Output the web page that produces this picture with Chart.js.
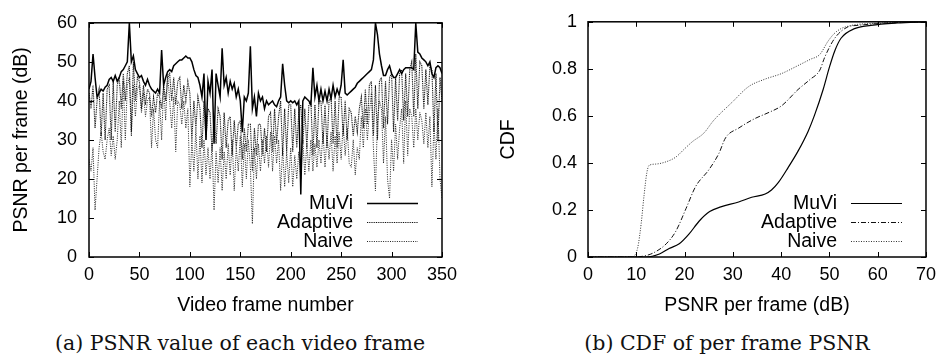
<!DOCTYPE html>
<html>
<head>
<meta charset="utf-8">
<script src="https://cdn.jsdelivr.net/npm/chart.js@4.4.1/dist/chart.umd.min.js"></script>
<style>
  body { margin: 0; background: #fff; width: 943px; height: 360px; overflow: hidden; position: relative; }
  canvas { position: absolute; top: 0; }
  #psnrChart { left: 0; }
  #cdfChart { left: 470px; }
  .caption { position: absolute; top: 331px; width: 600px; text-align: center; line-height: 24px;
             font-family: "DejaVu Serif", serif; font-size: 20.5px; color: #111; }
</style>
</head>
<body>
<canvas id="psnrChart" width="470" height="320"></canvas>
<canvas id="cdfChart" width="473" height="320"></canvas>
<div class="caption" style="left:-60px">(a) PSNR value of each video frame</div>
<div class="caption" style="left:427px">(b) CDF of per frame PSNR</div>
<script>
// per-frame PSNR (dB), one value every 2 frames (0..350)
const frameStep = 2;
const muviPsnr = [
  43, 45, 52, 46, 41, 42, 43, 42.5, 43.5, 44,
  45.5, 46, 45, 46.5, 45, 46, 47.5, 48, 49, 50,
  60, 50, 51.5, 48, 47, 46, 46.5, 45, 44, 45.5,
  44, 43, 42.5, 42, 43, 42, 53, 44, 46, 47.5,
  48, 47.5, 49, 49.5, 50, 50.5, 50.5, 51, 51.5, 51,
  51, 50, 48, 46.5, 46, 44, 41, 47, 30, 45,
  42, 48, 29, 47, 44, 41, 53.5, 44, 46, 42,
  45, 43, 44.5, 41, 43, 40, 32, 41, 40, 42,
  54, 38, 41, 36, 42, 40, 41, 38, 40, 39,
  39.5, 40, 39, 38.5, 40, 41, 49.5, 44, 40, 39.5,
  40, 39.5, 40, 39, 40, 16, 40, 41, 40.5, 40,
  39, 48.5, 41, 44, 40, 43, 40, 42.5, 40, 43,
  40.5, 44, 41, 43, 41.5, 44, 50.5, 42, 41.5, 42,
  42.5, 43, 43.5, 44.5, 45, 45.5, 46, 46.5, 47, 47.5,
  48, 50.5, 60, 57, 52, 49, 46.5, 46.5, 48, 49,
  47, 46, 46, 47, 48, 47, 48, 48.5, 48.5, 48.5,
  48.5, 48, 60, 52.5, 52, 51, 50.5, 50, 49, 50,
  47, 46, 48.5, 49, 48.5, 47
];
const adaptivePsnr = [
  42, 38, 44, 33, 40, 43, 31, 42, 30, 43,
  44, 30, 45, 32, 44, 46, 38, 47, 40, 47,
  49, 32, 50, 40, 46, 45, 38, 44, 39, 43,
  42, 36, 41, 37, 42, 41, 38, 44, 40, 46,
  47, 40, 46, 39, 45, 46, 38, 44, 40, 45,
  42, 30, 40, 33, 41, 38, 28, 40, 30, 38,
  37, 27, 36, 29, 38, 36, 25, 37, 28, 35,
  36, 26, 35, 28, 34, 35, 25, 33, 27, 34,
  34, 22, 33, 26, 34, 34, 26, 33, 27, 36,
  37, 27, 38, 29, 36, 40, 26, 38, 27, 39,
  39, 27, 38, 28, 37, 39, 29, 38, 28, 39,
  40, 26, 39, 28, 40, 40, 29, 39, 28, 40,
  41, 29, 40, 28, 41, 41, 31, 40, 30, 38,
  37, 31, 36, 32, 38, 41, 33, 43, 34, 44,
  45, 31, 44, 30, 45, 46, 33, 45, 34, 46,
  47, 32, 46, 35, 47, 48, 35, 47, 36, 48,
  50, 36, 52, 38, 50, 49, 38, 48, 39, 49,
  48, 32, 47, 30, 46, 40
];
const naivePsnr = [
  25, 22, 28, 12, 20, 28, 32, 27, 25, 30,
  33, 26, 31, 25, 30, 40, 28, 45, 30, 44,
  46, 31, 44, 36, 43, 44, 37, 42, 36, 40,
  41, 28, 38, 30, 28, 40, 30, 44, 35, 47,
  40, 33, 41, 27, 40, 39, 34, 40, 33, 38,
  18, 30, 22, 33, 20, 31, 19, 30, 21, 28,
  20, 29, 12, 27, 19, 28, 17, 27, 20, 29,
  21, 30, 17, 28, 22, 31, 18, 29, 20, 30,
  23, 8.5, 28, 20, 29, 22, 30, 24, 31, 23,
  32, 22, 31, 24, 30, 17, 28, 18, 27, 19,
  28, 18, 26, 20, 27, 20, 30, 21, 29, 22,
  30, 22, 29, 23, 30, 24, 32, 23, 31, 25,
  32, 22, 31, 24, 32, 25, 34, 26, 33, 24,
  23, 30, 21, 28, 25, 36, 28, 38, 30, 37,
  42, 28, 17, 35, 40, 38, 24, 36, 20, 15,
  30, 22, 34, 25, 33, 38, 24, 40, 26, 38,
  36, 28, 38, 30, 37, 35, 29, 37, 28, 36,
  18, 34, 25, 38, 20, 15
];

// CDF curves: PSNR (dB) and cumulative fraction
const muviCdfX = [0, 12, 14.8, 16.8, 18.9, 20.9, 23, 25.2, 27.5, 31.2, 33.9, 36.7, 38, 39.4, 41.5, 43.5, 45.6, 46.9, 48.7, 50, 51.1, 52.4, 55.2, 58.6, 64, 70];
const muviCdfY = [0, 0, 0.013, 0.036, 0.056, 0.097, 0.152, 0.193, 0.213, 0.234, 0.254, 0.268, 0.285, 0.316, 0.382, 0.45, 0.535, 0.602, 0.712, 0.807, 0.876, 0.93, 0.971, 0.985, 0.995, 1];
const adaptiveCdfX = [0, 10, 11.3, 13.4, 16.2, 18.2, 20.3, 22.3, 25, 27.1, 28.5, 31.2, 34.6, 37.5, 40.1, 43.5, 46, 48, 49, 51.1, 53.8, 56, 58.5, 62, 70];
const adaptiveCdfY = [0, 0, 0.003, 0.016, 0.056, 0.11, 0.206, 0.30, 0.37, 0.44, 0.507, 0.548, 0.589, 0.615, 0.643, 0.712, 0.755, 0.794, 0.848, 0.93, 0.978, 0.985, 0.99, 0.995, 1];
const naiveCdfX = [0, 9, 9.6, 10.3, 11, 11.6, 12.2, 12.7, 14, 16.2, 18.2, 20, 21.6, 24, 26, 29.8, 33.3, 36.5, 40.1, 43.5, 46, 48, 49.7, 51, 52.4, 54, 55.8, 58, 60.6, 65, 70];
const naiveCdfY = [0, 0, 0.005, 0.04, 0.14, 0.26, 0.36, 0.39, 0.395, 0.405, 0.425, 0.46, 0.49, 0.527, 0.58, 0.657, 0.725, 0.755, 0.78, 0.814, 0.84, 0.861, 0.917, 0.95, 0.971, 0.982, 0.989, 0.992, 0.995, 0.998, 1];

const seriesNames = ['MuVi', 'Adaptive', 'Naive'];

const sansFamily = '"Liberation Sans", Arial, sans-serif';
Chart.defaults.font.family = sansFamily;
Chart.defaults.font.size = 18;
Chart.defaults.color = '#000';

const toPoints = (xs, ys) => xs.map((x, i) => ({ x: x, y: ys[i] }));
const framePoints = ys => ys.map((y, i) => ({ x: i * frameStep, y: y }));

// gnuplot style box with inward ticks on all four sides
const frameTicks = {
    id: 'frameTicks',
    afterDatasetsDraw(chart) {
        const { ctx, chartArea: a, scales: { x, y } } = chart;
        ctx.save();
        ctx.strokeStyle = '#000';
        ctx.lineWidth = 1;
        ctx.beginPath();
        x.ticks.forEach(t => {
            const px = Math.round(x.getPixelForValue(t.value)) + 0.5;
            ctx.moveTo(px, a.bottom); ctx.lineTo(px, a.bottom - 5);
            ctx.moveTo(px, a.top); ctx.lineTo(px, a.top + 5);
        });
        y.ticks.forEach(t => {
            const py = Math.round(y.getPixelForValue(t.value)) + 0.5;
            ctx.moveTo(a.left, py); ctx.lineTo(a.left + 5, py);
            ctx.moveTo(a.right, py); ctx.lineTo(a.right - 5, py);
        });
        ctx.stroke();
        ctx.lineWidth = 1.5;
        ctx.strokeRect(a.left, a.top, a.right - a.left, a.bottom - a.top);
        ctx.restore();
    }
};

// key in the lower right corner, text first then line sample
const insideLegend = {
    id: 'insideLegend',
    afterDraw(chart) {
        const { ctx, chartArea: a } = chart;
        ctx.save();
        ctx.font = '19.5px ' + sansFamily;
        ctx.textAlign = 'right';
        ctx.textBaseline = 'middle';
        chart.data.datasets.forEach((ds, i) => {
            const yy = a.bottom - 54 + i * 19;
            ctx.fillStyle = '#000';
            ctx.fillText(ds.label, a.right - 89, yy + 1);
            ctx.strokeStyle = ds.borderColor;
            ctx.lineWidth = ds.borderWidth;
            ctx.setLineDash(ds.borderDash || []);
            ctx.beginPath();
            ctx.moveTo(a.right - 75, Math.round(yy) + 0.5);
            ctx.lineTo(a.right - 24, Math.round(yy) + 0.5);
            ctx.stroke();
        });
        ctx.restore();
    }
};

function axes(xOpts, yOpts) {
    return {
        x: Object.assign({
            type: 'linear',
            grid: { display: false, drawTicks: false },
            border: { display: false },
            afterFit(s) { s.height = 63; }
        }, xOpts),
        y: Object.assign({
            type: 'linear',
            grid: { display: false, drawTicks: false },
            border: { display: false }
        }, yOpts)
    };
}

const titleFont = { size: 19.5 };

function drawCharts() {
    new Chart(document.getElementById('psnrChart'), {
        type: 'line',
        data: {
            datasets: [
                { label: seriesNames[0], data: framePoints(muviPsnr), borderColor: '#000', borderWidth: 1.5 },
                { label: seriesNames[1], data: framePoints(adaptivePsnr), borderColor: '#111', borderWidth: 1.1, borderDash: [1, 0.8] },
                { label: seriesNames[2], data: framePoints(naivePsnr), borderColor: '#222', borderWidth: 1, borderDash: [1, 1.3] }
            ]
        },
        options: {
            responsive: false,
            animation: false,
            layout: { padding: { top: 13, right: 28, left: 0, bottom: 0 } },
            plugins: { legend: { display: false }, tooltip: { enabled: false } },
            elements: { point: { radius: 0 }, line: { tension: 0 } },
            scales: axes(
                { min: 0, max: 350, ticks: { stepSize: 50, padding: 7, maxRotation: 0 },
                  title: { display: true, text: 'Video frame number', font: titleFont, padding: { top: 0, bottom: 3 } } },
                { min: 0, max: 60, ticks: { stepSize: 10, padding: 12 },
                  title: { display: true, text: 'PSNR per frame (dB)', font: titleFont, padding: { top: 10, bottom: 0 } },
                  afterFit(s) { s.width = 89; } }
            )
        },
        plugins: [frameTicks, insideLegend]
    });

    new Chart(document.getElementById('cdfChart'), {
        type: 'line',
        data: {
            datasets: [
                { label: seriesNames[0], data: toPoints(muviCdfX, muviCdfY), borderColor: '#000', borderWidth: 1.2 },
                { label: seriesNames[1], data: toPoints(adaptiveCdfX, adaptiveCdfY), borderColor: '#111', borderWidth: 1, borderDash: [5, 2, 1, 2] },
                { label: seriesNames[2], data: toPoints(naiveCdfX, naiveCdfY), borderColor: '#333', borderWidth: 1, borderDash: [1, 1.5] }
            ]
        },
        options: {
            responsive: false,
            animation: false,
            layout: { padding: { top: 13, right: 14, left: 0, bottom: 0 } },
            plugins: { legend: { display: false }, tooltip: { enabled: false } },
            elements: { point: { radius: 0 }, line: { cubicInterpolationMode: 'monotone' } },
            scales: axes(
                { min: 0, max: 70, ticks: { stepSize: 10, padding: 7, maxRotation: 0 },
                  title: { display: true, text: 'PSNR per frame (dB)', font: titleFont, padding: { top: 0, bottom: 3 } } },
                { min: 0, max: 1, ticks: { stepSize: 0.2, padding: 11, callback: v => String(+v.toFixed(1)) },
                  title: { display: true, text: 'CDF', font: titleFont, padding: { top: 27, bottom: 0 } },
                  afterFit(s) { s.width = 118; } }
            )
        },
        plugins: [frameTicks, insideLegend]
    });
}

document.fonts.load('18px "Liberation Sans"').then(drawCharts, drawCharts);
</script>
</body>
</html>
